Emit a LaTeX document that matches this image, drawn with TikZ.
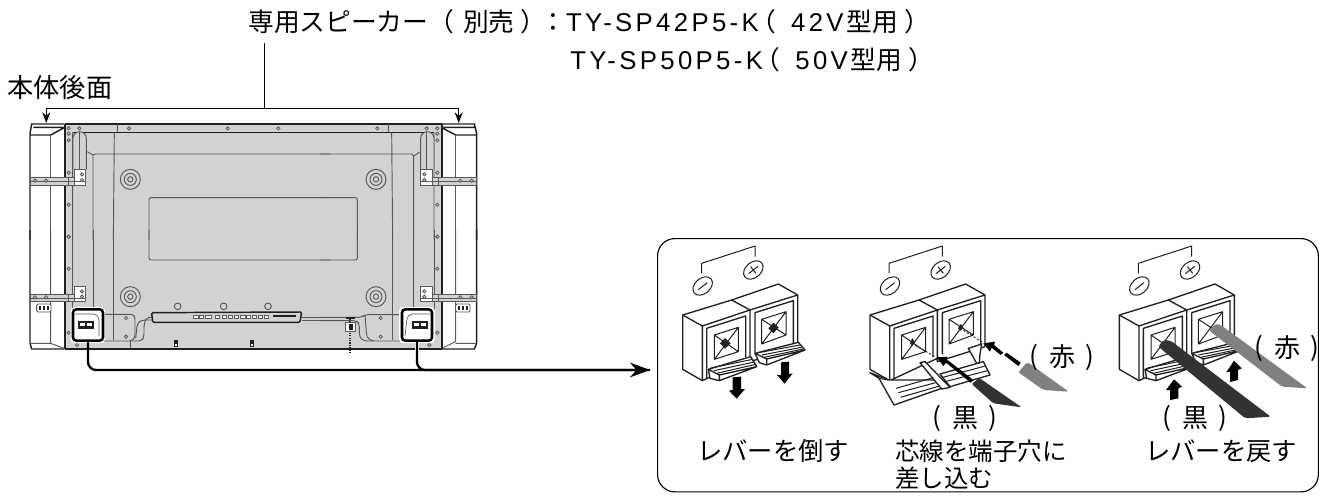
\documentclass[tikz,border=0pt]{standalone}
\usepackage{fontspec}
\newfontfamily\latw{Liberation Sans}[LetterSpace=13]
\newfontfamily\cjk{Noto Sans CJK JP}
\usetikzlibrary{arrows.meta}
\definecolor{plate}{HTML}{D1D2D4}
\definecolor{ink}{HTML}{231F20}
\definecolor{wireblk}{HTML}{333333}
\definecolor{wirered}{HTML}{808080}
\newcommand{\ttl}{\fontsize{19.3pt}{22pt}\selectfont}
\tikzset{
 zoomat/.style 2 args={shift={(#1,#2)},x=.25pt,y=-.25pt},
 tl/.style={draw=ink,line width=.75pt,line join=round},
 tvl/.style={draw=ink!75,line width=.7pt,line join=round},
 tvb/.style={draw=ink,line width=1.1pt},
 screw/.style={draw=ink!75,line width=.55pt,fill=plate},
 label/.style={inner sep=0pt,text=black},
 term/.style={draw=black,line width=1.9pt,rounded corners=2.5pt,fill=white,inner sep=0pt,minimum width=22.5pt,minimum height=23.5pt},
 cable/.style={draw=black,line width=1.7pt,rounded corners=6pt},
 captext/.style={label,font=\cjk\fontsize{19.5pt}{22pt}\selectfont},
 captxt/.style={label,anchor=west,font=\cjk\fontsize{18.4pt}{20pt}\selectfont},
 captxtb/.style={label,anchor=west,font=\cjk\fontsize{19pt}{20pt}\selectfont},
}
\newcommand{\scr}[2]{\draw[screw] (#1,#2) circle [radius=5];}
\newcommand{\concentric}[2]{\draw[tvl] (#1,#2) circle [radius=30] (#1,#2) circle [radius=18] (#1,#2) circle [radius=8];}
\newcommand{\modelline}[2]{{\latw\ttl TY-SP#1P5-K}\kern-6pt{\cjk\ttl （}\kern11pt{\latw\ttl #2V}\kern2pt{\cjk\ttl 型用}\kern5pt{\cjk\ttl ）}}
\newcommand{\paren}[1]{\raisebox{1pt}{(}\kern8pt #1\kern8pt\raisebox{1pt}{)}}
% terminal body, in zoom units
\newcommand{\termbody}{%
 \draw[tl] (125,100)--(125,70)--(285,18)--(285,50);
 \draw[tl,rotate around={40:(128,138)}] (128,138) ellipse [x radius=33,y radius=23];
 \draw[tl] (115,149)--(142,128);
 \draw[tl,rotate around={40:(280,90)}] (280,90) ellipse [x radius=33,y radius=23];
 \draw[tl] (266,101)--(294,79) (272,80)--(288,100);
 \draw[tl,fill=white,line width=1pt] (68,225)--(215,180)--(355,132)--(413,165)--(413,320)--(270,365)--(270,355)--(127,422)--(68,388)--cycle;
 \draw[tl,line width=1pt] (127,258)--(270,210)--(413,165) (215,180)--(270,210) (68,225)--(127,258)--(127,422) (270,210)--(270,360);
 \draw[tl,line width=1pt] (140,265)--(257,228)--(257,352) (140,265)--(140,415) (285,218)--(400,182)--(400,312) (285,218)--(285,342);
 \draw[tl] (163,285)--(235,262)--(235,335)--(163,358)--cycle (163,285)--(235,335) (235,262)--(163,358);
 \draw[tl] (305,238)--(378,215)--(378,285)--(305,312)--cycle (305,238)--(378,285) (378,215)--(305,312);
}
\newcommand{\leverup}{%
 \draw[tl,fill=white,line width=1pt] (145,388)--(272,350)--(290,380)--(178,422)--(150,415)--cycle (145,388)--(178,405)--(178,422) (178,405)--(290,380);
 \draw[tl] (152,384)--(278,358) (162,392)--(283,366) (170,400)--(287,373);
 \draw[tl,fill=white,line width=1pt] (285,340)--(415,307)--(435,330)--(320,375)--(298,368)--cycle (285,340)--(320,357)--(320,375) (320,357)--(435,330);
 \draw[tl] (295,338)--(420,315) (305,345)--(425,322) (312,352)--(430,327);
}
\begin{document}
\begin{tikzpicture}[x=.75pt,y=-.75pt]
\useasboundingbox (0,0) rectangle (1324,500);
\fill[white] (0,0) rectangle (1324,500);
% back plate
\fill[plate] (65,124) rectangle (442,349);
% speakers
\begin{scope}[zoomat={0}{70}]
 \draw[tvb] (90,510)--(90,190)--(95,162)--(193,162) (100,172)--(190,172) (90,195)--(152,195)--(193,173);
 \draw[tvl] (152,195)--(152,510);
\end{scope}
\begin{scope}[zoomat={0}{230}]
 \draw[tvb] (90,0)--(90,340)--(95,357)--(193,357);
 \draw[tvl] (152,0)--(152,340)--(193,355) (90,340)--(152,340);
 \draw[tvl,fill=white,rounded corners=1pt] (110,222) rectangle (153,246);
 \foreach \a in {116,128,140}{\fill[ink] (\a,227) rectangle +(8,13);}
\end{scope}
\begin{scope}[zoomat={320}{70}]
 \draw[tvb] (470,510)--(470,190)--(463,162)--(365,162) (370,172)--(463,172) (470,195)--(407,195)--(365,173);
 \draw[tvl] (407,195)--(407,510);
\end{scope}
\begin{scope}[zoomat={320}{230}]
 \draw[tvb] (470,0)--(470,340)--(463,357)--(365,357);
 \draw[tvl] (407,0)--(407,335)--(365,355) (407,340)--(470,340);
 \draw[tvl,fill=white,rounded corners=1pt] (407,222) rectangle (450,246);
 \foreach \a in {413,425,437}{\fill[ink] (\a,227) rectangle +(8,13);}
\end{scope}
% plate lines, left half (zoom 1)
\begin{scope}[zoomat={0}{70}]
 \draw[tvb] (195,162)--(990,162) (218,187)--(990,187);
 \draw[tvb,line width=1.4pt] (194,162)--(194,510);
 \draw[tvl] (352,162)--(352,187) (343,187)--(340,510) (218,187)--(218,510) (279,510)--(279,255)--(285,252)--(990,252) (279,255)--(262,245);
 \draw[tvl,rounded corners=1.5pt] (447,510)--(447,383)--(990,383);
 \draw[tvl,fill=plate] (219,298)--(219,205) arc[start angle=180,end angle=360,radius=20] --(259,298);
 \draw[tvl] (238,185)--(238,298);
 \draw[tvl,fill=white] (222,298) rectangle (257,345);
 \draw[tvl,fill=plate] (90,322)--(222,322)--(222,345)--(90,345)--cycle;
 \draw[tvl] (90,335)--(257,335) (205,322)--(205,345);
 \foreach \a/\b in {206/175,206/191,206/211,206/308,206/404,206/500,238/175,387/175,683/175,835/175,105/332,138/332,246/313,246/330}{\scr{\a}{\b}}
 \concentric{391}{328}
\end{scope}
% plate lines, left lower (zoom 2)
\begin{scope}[zoomat={0}{230}]
 \draw[tvb,line width=1.4pt] (194,0)--(194,357);
 \draw[tvb] (194,357)--(990,357);
 \draw[tvl] (218,0)--(218,240) (279,0)--(279,240) (340,0)--(340,330);
 \draw[tvl,rounded corners=1.5pt] (447,0)--(447,90)--(990,90);
 \draw[tvl,fill=white] (222,168) rectangle (257,215);
 \draw[tvl,fill=plate] (90,192)--(222,192)--(222,215)--(90,215)--cycle;
 \draw[tvl] (90,205)--(257,205) (205,192)--(205,215);
 \foreach \a/\b in {206/20,206/116,206/308,231/345,105/202,138/202,246/184,246/200,378/264,378/320}{\scr{\a}{\b}}
 \concentric{391}{200}
 \foreach \a in {533,671,804}{\draw[tvl] (\a,229) circle [radius=10];}
 \draw[tvl,rounded corners=1.5pt] (305,253)--(400,253)--(405,262)--(405,322)--(395,333)--(305,333);
 \draw[tvl] (390,333)--(390,357);
 \draw[tvl,rounded corners=2.5pt] (395,333)--(425,333)--(432,320)--(432,282)--(440,262)--(455,262);
 \draw[tvl,rounded corners=2.5pt] (407,325)--(412,280)--(425,270)--(455,270);
 \draw[tvl] (905,262)--(990,262) (905,272)--(990,272);
 \draw[tvb,fill=plate,rounded corners=1pt] (455,248)--(905,246)--(900,277)--(458,277)--cycle;
 \foreach \a/\b in {581/13,598/12,617/18,645/13,666/14,685/12,702/12,722/13,740/12,757/13,775/11,793/12}{\draw[tvl,fill=white,line width=.5pt] (\a,255) rectangle +(\b,10);}
 \fill[ink] (818,254) rectangle (888,261);
 \foreach \a in {528,756}{\fill[ink] (\a-6,330) rectangle (\a+7,352); \fill[white] (\a-3,342) rectangle (\a+3,348);}
\end{scope}
% plate lines, right (zoom 4 and 3)
\begin{scope}[zoomat={320}{70}]
 \draw[tvb,line width=1.4pt] (365,162)--(365,510);
 \draw[tvb] (0,162)--(365,162) (0,187)--(342,187);
 \draw[tvl] (205,162)--(205,187) (215,187)--(218,510) (342,187)--(342,510) (281,510)--(281,258)--(276,252)--(0,252) (281,258)--(298,247);
 \draw[tvl,rounded corners=1.5pt] (112,510)--(112,383)--(0,383);
 \draw[tvl,fill=plate] (302,298)--(302,205) arc[start angle=180,end angle=360,radius=20] --(342,298);
 \draw[tvl] (320,185)--(320,298);
 \draw[tvl,fill=white] (302,298) rectangle (338,345);
 \draw[tvl,fill=plate] (338,322)--(470,322)--(470,345)--(338,345)--cycle;
 \draw[tvl] (302,335)--(470,335) (355,322)--(355,345);
 \foreach \a/\b in {352/175,352/191,352/211,352/308,352/404,352/500,320/175,172/175,421/332,455/332,313/313,313/330}{\scr{\a}{\b}}
 \concentric{168}{328}
\end{scope}
\begin{scope}[zoomat={320}{230}]
 \draw[tvb,line width=1.4pt] (365,0)--(365,357);
 \draw[tvb] (0,357)--(365,357);
 \draw[tvl] (218,0)--(218,330) (281,0)--(281,240) (342,0)--(342,240);
 \draw[tvl,rounded corners=1.5pt] (112,0)--(112,90)--(0,90);
 \draw[tvl,fill=white] (302,168) rectangle (338,215);
 \draw[tvl,fill=plate] (338,192)--(470,192)--(470,215)--(338,215)--cycle;
 \draw[tvl] (302,205)--(470,205) (355,192)--(355,215);
 \foreach \a/\b in {352/20,352/116,352/308,328/345,421/202,455/202,313/184,313/200,182/264,182/320}{\scr{\a}{\b}}
 \concentric{168}{200}
 \draw[tvl,rounded corners=2.5pt] (0,262)--(125,262)--(135,254)--(245,254);
 \draw[tvl,rounded corners=2.5pt] (135,254)--(140,322)--(155,333)--(245,333);
 \draw[tvl,rounded corners=2.5pt] (0,272)--(110,272)--(118,282)--(118,320)--(130,333)--(160,333);
 \draw[ink,line width=1.4pt,dash pattern=on 1pt off .8pt] (91,265)--(91,366);
 \draw[tvl,fill=white] (77,278) rectangle (105,305);
 \fill[ink] (86,283) rectangle (100,300);
 \fill[ink] (78,262) rectangle (105,268);
\end{scope}
% top bracket, label line
\node[label,anchor=west,font=\cjk\ttl] (title) at (248,22) {専用スピーカー（\kern6.75pt 別売\kern4.5pt ）\kern-4.5pt ：\modelline{42}{42}};
\node[label,anchor=west,font=\cjk\ttl] (title2) at (570,60) {\modelline{50}{50}};
\node[label,anchor=west,font=\cjk\fontsize{19.7pt}{22pt}\selectfont] (rear) at (7,88) {本体後面};
\coordinate (brL) at (46.3,108.3);
\coordinate (brR) at (458.7,108.3);
\coordinate (brM) at (264.3,108.3);
\coordinate (spL) at (46.3,123);
\coordinate (spR) at (458.7,123);
\draw[draw=black,line width=.85pt] (264.3,43) -- (brM);
\draw[draw=black,line width=.85pt,-{Stealth[length=8pt,width=6pt]}] (brM) -- (brL) -- (spL);
\draw[draw=black,line width=.85pt,-{Stealth[length=8pt,width=6pt]}] (brM) -- (brR) -- (spR);
% speaker terminals
\fill[white,rounded corners=3pt] (70.5,307) rectangle (105,343);
\fill[white,rounded corners=3pt] (399,307) rectangle (435,343);
\node[term] (tL) at (88,325) {};
\node[term] (tR) at (417,325) {};
\fill[ink] (78,320.7) rectangle (94,329);
\fill[ink] (412,320.7) rectangle (428,329);
\foreach \a in {80,87,414,421}{\fill[white] (\a,322.5) rectangle +(5,3.5);}
\draw[tvl,line width=.5pt,rounded corners=1.5pt] (75,314) -- (96,314) -- (99,318) -- (99,336);
\draw[tvl,line width=.5pt,rounded corners=1.5pt] (431,314) -- (410,314) -- (407,318) -- (405,336);
% cables
\coordinate (tip) at (650,370);
\draw[white,line width=3.5pt] (tR.south) -- (417,362);
\draw[cable] (tL.south) |- (tip);
\draw[cable,-{Stealth[length=15pt,width=11pt]}] (tR.south) |- (tip);
% detail box
\node[draw=black,line width=.85pt,rounded corners=13pt,minimum width=495.6pt,minimum height=190pt,inner sep=0pt,anchor=north west] (box) at (657,238) {};
% terminal 1
\begin{scope}[zoomat={660}{240}]
 \termbody
 \fill[ink] (195,294)--(212,310)--(195,326)--(180,310)--cycle;
 \fill[ink] (340,248)--(356,262)--(340,280)--(325,265)--cycle;
 \leverup
 \fill[black] (218,412)--(243,410)--(243,447)--(255,447)--(230,476)--(207,452)--(218,450)--cycle;
 \fill[black] (363,367)--(387,365)--(387,402)--(398,400)--(374,431)--(351,405)--(363,405)--cycle;
\end{scope}
% terminal 2
\begin{scope}[zoomat={847.33}{240}]
 \termbody
 \fill[ink] (195,294)--(202,305)--(195,318)--(188,310)--cycle;
 \fill[ink] (340,252)--(348,262)--(340,272)--(332,265)--cycle;
\end{scope}
\begin{scope}[zoomat={880}{240}]
 \draw[tl,fill=white,line width=1pt] (-30,398)--(-3,415)--(42,495)--(185,445)--(170,420)--(25,420)--cycle;
 \draw[tl] (-3,415)--(25,420) (48,445)--(170,410) (55,458)--(178,425) (62,472)--(182,437);
 \draw[tl,fill=white,line width=1pt] (120,368)--(135,365)--(210,442)--(185,447)--cycle;
 \draw[tl,fill=white,line width=1pt] (180,402)--(310,365)--(330,405)--(210,440)--cycle;
 \draw[tl] (188,412)--(316,378) (195,425)--(323,392);
 \draw[tl,fill=white,line width=1pt] (265,325)--(305,312)--(300,342)--(298,368)--(290,370)--cycle;
 \draw[ink,line width=.7pt,dash pattern=on 1.6pt off 1.4pt] (95,310)--(165,350) (240,265)--(305,305);
 \fill[black] (170,352)--(202,350)--(200,358)--(280,420)--(272,428)--(198,368)--(190,378)--cycle;
 \fill[black] (310,310)--(345,305)--(342,315)--(370,338)--(362,345)--(335,323)--(330,335)--cycle;
 \fill[black] (372,345)--(380,338)--(422,368)--(415,378)--cycle;
 \fill[wireblk,rounded corners=1.5pt] (275,432)--(298,414)--(425,502)--(340,490)--cycle;
 \fill[wirered,rounded corners=1.5pt] (415,397)--(442,366)--(566,455)--(490,450)--cycle;
\end{scope}
% terminal 3
\begin{scope}[zoomat={1096.67}{240}]
 \termbody
 \leverup
\end{scope}
\begin{scope}[zoomat={1100}{240}]
 \fill[wireblk,rounded corners=1.5pt] (175,320)--(190,300)--(212,302)--(512,530)--(436,535)--cycle;
 \fill[wirered,rounded corners=1.5pt] (328,272)--(345,252)--(362,255)--(622,445)--(546,440)--cycle;
 \fill[black] (222,418)--(246,440)--(235,445)--(235,475)--(210,480)--(210,450)--(198,450)--cycle;
 \fill[black] (402,362)--(425,385)--(414,390)--(414,420)--(390,426)--(390,395)--(379,397)--cycle;
\end{scope}
% labels
\node[captext] (red2) at (1062,357) {\paren{赤}};
\node[captext] (blk2) at (965,418) {\paren{黒}};
\node[captext] (red3) at (1287,348) {\paren{赤}};
\node[captext] (blk3) at (1195,418) {\paren{黒}};
\node[captxtb] (c1) at (697,451) {レバーを倒す};
\node[captxt] (c2) at (895,451) {芯線を端子穴に};
\node[captxt] (c3) at (895,478) {差し込む};
\node[captxtb] (c4) at (1145,451) {レバーを戻す};
\end{tikzpicture}
\end{document}
